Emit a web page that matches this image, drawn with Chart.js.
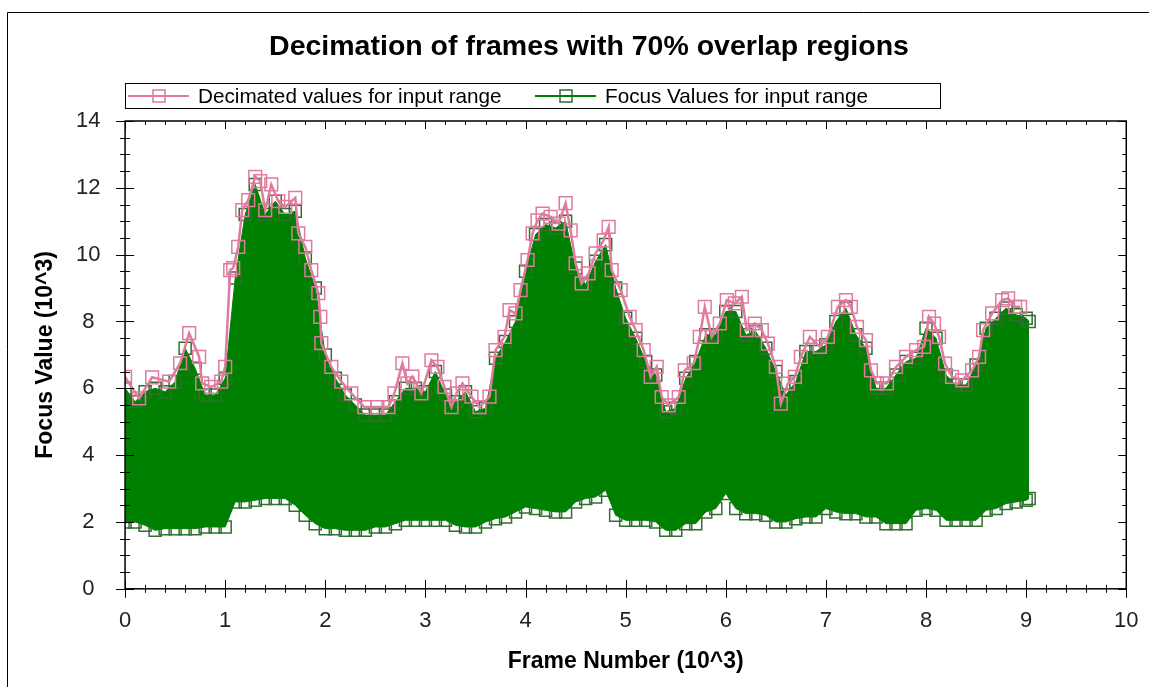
<!DOCTYPE html>
<html>
<head>
<meta charset="utf-8">
<script src="https://cdn.jsdelivr.net/npm/chart.js@4.4.0/dist/chart.umd.min.js"></script>
<style>
  html, body { margin: 0; padding: 0; background: #fff; }
  #wrap { position: relative; width: 1149px; height: 687px; }
</style>
</head>
<body>
<div id="wrap"><canvas id="chartFocus"></canvas></div>
<script>
// decimated (pink) series: frame number (10^3) / focus value (10^3)
const decimatedX = [
  0.00, 0.14, 0.27, 0.44, 0.55, 0.64, 0.74, 0.77, 0.86, 0.96,
  1.00, 1.05, 1.08, 1.13, 1.17, 1.23, 1.30, 1.35, 1.40, 1.46,
  1.53, 1.60, 1.70, 1.73, 1.80, 1.86, 1.93, 1.95, 1.96, 2.06,
  2.16, 2.26, 2.39, 2.52, 2.63, 2.69, 2.77, 2.82, 2.87, 2.96,
  3.06, 3.12, 3.19, 3.26, 3.31, 3.37, 3.46, 3.54, 3.64, 3.70,
  3.79, 3.84, 3.90, 3.95, 4.02, 4.07, 4.12, 4.17, 4.25, 4.33,
  4.40, 4.45, 4.50, 4.56, 4.63, 4.70, 4.78, 4.83, 4.86, 4.95,
  5.04, 5.10, 5.18, 5.25, 5.31, 5.36, 5.43, 5.53, 5.59, 5.68,
  5.74, 5.79, 5.86, 5.94, 6.01, 6.09, 6.16, 6.21, 6.29, 6.36,
  6.42, 6.50, 6.55, 6.62, 6.69, 6.75, 6.84, 6.94, 7.02, 7.12,
  7.20, 7.25, 7.31, 7.40, 7.45, 7.51, 7.61, 7.70, 7.80, 7.90,
  7.98, 8.03, 8.08, 8.13, 8.19, 8.26, 8.36, 8.46, 8.53, 8.57,
  8.66, 8.76, 8.82, 8.89, 8.94
];
const decimatedY = [
  6.34, 5.70, 6.33, 6.20, 6.75, 7.65, 6.94, 6.15, 6.04, 6.20,
  6.64, 9.54, 9.60, 10.23, 11.33, 11.63, 12.33, 12.20, 11.33, 12.10,
  11.60, 11.43, 11.70, 10.64, 10.23, 9.54, 8.85, 8.14, 7.35, 6.64,
  6.20, 5.85, 5.44, 5.44, 5.44, 5.85, 6.75, 6.15, 6.35, 5.85,
  6.84, 6.64, 6.04, 5.44, 5.85, 6.15, 5.75, 5.44, 5.75, 7.14,
  7.54, 8.34, 8.24, 8.94, 9.84, 10.64, 11.03, 11.23, 11.13, 10.93,
  11.54, 10.73, 9.74, 9.14, 9.44, 10.04, 10.43, 10.83, 9.54, 8.94,
  8.14, 7.74, 7.14, 6.34, 6.64, 5.74, 5.49, 5.74, 6.54, 6.75,
  7.54, 8.44, 7.54, 7.94, 8.64, 8.54, 8.74, 7.74, 7.94, 7.74,
  7.34, 6.64, 5.54, 6.14, 6.34, 6.94, 7.54, 7.24, 7.54, 8.44,
  8.64, 8.44, 7.84, 7.44, 6.54, 6.15, 6.15, 6.64, 6.94, 7.14,
  7.24, 8.14, 7.94, 7.54, 6.74, 6.34, 6.24, 6.54, 6.94, 7.74,
  8.24, 8.64, 8.69, 8.44, 8.44
];

// focus values (green): upper and lower edge of the oscillating band
const focusX = [
  0.0, 0.1, 0.2, 0.3, 0.4, 0.5, 0.6, 0.7, 0.8, 0.9,
  1.0, 1.1, 1.2, 1.3, 1.4, 1.5, 1.6, 1.7, 1.8, 1.9,
  2.0, 2.1, 2.2, 2.3, 2.4, 2.5, 2.6, 2.7, 2.8, 2.9,
  3.0, 3.1, 3.2, 3.3, 3.4, 3.5, 3.6, 3.7, 3.8, 3.9,
  4.0, 4.1, 4.2, 4.3, 4.4, 4.5, 4.6, 4.7, 4.8, 4.9,
  5.0, 5.1, 5.2, 5.3, 5.4, 5.5, 5.6, 5.7, 5.8, 5.9,
  6.0, 6.1, 6.2, 6.3, 6.4, 6.5, 6.6, 6.7, 6.8, 6.9,
  7.0, 7.1, 7.2, 7.3, 7.4, 7.5, 7.6, 7.7, 7.8, 7.9,
  8.0, 8.1, 8.2, 8.3, 8.4, 8.5, 8.6, 8.7, 8.8, 8.9,
  9.0, 9.03
];
const focusHigh = [
  6.0, 5.6, 5.9, 6.0, 5.9, 6.2, 7.2, 6.6, 5.8, 5.8,
  6.3, 9.3, 11.2, 12.1, 11.2, 11.6, 11.2, 11.3, 9.9, 9.0,
  7.0, 6.3, 5.8, 5.5, 5.2, 5.2, 5.2, 5.6, 6.0, 6.0,
  5.9, 6.5, 5.8, 5.6, 5.9, 5.3, 5.4, 6.9, 7.4, 8.0,
  9.5, 10.6, 10.9, 10.8, 11.0, 9.6, 9.1, 9.8, 10.3, 9.0,
  8.1, 7.5, 6.8, 6.4, 5.3, 5.4, 6.3, 6.8, 7.6, 7.6,
  8.3, 8.3, 7.6, 7.7, 7.2, 6.5, 5.8, 6.2, 7.1, 7.1,
  7.3, 8.0, 8.4, 7.6, 7.2, 6.0, 6.0, 6.4, 6.8, 6.9,
  7.8, 7.5, 6.4, 6.1, 6.1, 6.7, 7.8, 8.1, 8.4, 8.2,
  8.1, 8.0
];
const focusLow = [
  2.0, 2.0, 1.9, 1.75, 1.8, 1.8, 1.8, 1.8, 1.85, 1.85,
  1.85, 2.6, 2.6, 2.65, 2.7, 2.7, 2.7, 2.5, 2.2, 1.95,
  1.8, 1.8, 1.75, 1.75, 1.75, 1.85, 1.85, 1.95, 2.05, 2.05,
  2.05, 2.05, 2.05, 1.9, 1.85, 1.85, 2.0, 2.1, 2.15, 2.3,
  2.45, 2.4, 2.35, 2.3, 2.3, 2.6, 2.7, 2.75, 2.95, 2.2,
  2.05, 2.05, 2.05, 2.0, 1.75, 1.75, 1.95, 1.95, 2.3, 2.4,
  2.85, 2.4, 2.25, 2.25, 2.2, 2.0, 2.0, 2.1, 2.15, 2.15,
  2.4, 2.3, 2.25, 2.25, 2.15, 2.15, 1.95, 1.95, 1.95, 2.35,
  2.4, 2.35, 2.05, 2.05, 2.05, 2.05, 2.35, 2.4, 2.55, 2.6,
  2.65, 2.7
];

const xTickValues = [0, 1, 2, 3, 4, 5, 6, 7, 8, 9, 10];
const yTickValues = [0, 2, 4, 6, 8, 10, 12, 14];
const chartTitle = 'Decimation of frames with 70% overlap regions';

const pinkColor = '#e07a9f';
const greenColor = '#008000';
const greenEdge = '#2f6f2f';
const xMinorStep = 0.2;
const yMinorStep = 0.5;

const toPoints = (xs, ys) => xs.map((v, i) => ({ x: v, y: ys[i] }));

// frame round the plot with inner ticks, like the old charting control
const axisFrame = {
  id: 'axisFrame',
  afterDatasetsDraw(chart) {
    const { ctx, chartArea: a, scales: { x, y } } = chart;
    ctx.save();
    ctx.strokeStyle = '#000';
    ctx.lineWidth = 1.5;
    ctx.strokeRect(a.left, a.top, a.right - a.left, a.bottom - a.top);
    ctx.beginPath();
    for (let i = 0; i * xMinorStep <= x.max + 1e-6; i++) {
      const v = i * xMinorStep;
      const px = Math.round(x.getPixelForValue(v)) + 0.5;
      const major = i % 5 === 0;
      const len = major ? 9 : 4;
      ctx.moveTo(px, a.bottom - len); ctx.lineTo(px, a.bottom + len);
      ctx.moveTo(px, a.top); ctx.lineTo(px, a.top + (major ? 8 : 4));
    }
    for (let i = 0; i * yMinorStep <= y.max + 1e-6; i++) {
      const v = i * yMinorStep;
      const py = Math.round(y.getPixelForValue(v)) + 0.5;
      const major = i % 4 === 0;
      const len = major ? 9 : 5;
      ctx.moveTo(a.left - len, py); ctx.lineTo(a.left + len, py);
      ctx.moveTo(a.right, py); ctx.lineTo(a.right - (major ? 8 : 4), py);
    }
    ctx.lineWidth = 1;
    ctx.stroke();
    ctx.restore();
  }
};

// title, boxed legend with line + square symbols, and the outer border of the image
const boxLegend = {
  id: 'boxLegend',
  afterDraw(chart) {
    const { ctx } = chart;
    ctx.save();
    ctx.strokeStyle = '#000';
    ctx.lineWidth = 1;
    ctx.beginPath();
    ctx.moveTo(7.5, 687); ctx.lineTo(7.5, 12.5); ctx.lineTo(1149, 12.5);
    ctx.stroke();

    ctx.fillStyle = '#000';
    ctx.font = 'bold 28.5px "Liberation Sans", Arial, sans-serif';
    ctx.textAlign = 'center';
    ctx.textBaseline = 'middle';
    ctx.fillText(chartTitle, 589, 47);

    ctx.textAlign = 'left';
    ctx.strokeRect(125.5, 83.5, 815, 25);
    const items = [
      { ds: chart.data.datasets[0], x0: 128 },
      { ds: chart.data.datasets[1], x0: 535 }
    ];
    const cy = 96;
    items.forEach(it => {
      ctx.strokeStyle = it.ds.borderColor;
      ctx.lineWidth = 2;
      ctx.beginPath();
      ctx.moveTo(it.x0, cy); ctx.lineTo(it.x0 + 61, cy);
      ctx.stroke();
      ctx.strokeStyle = it.ds.pointBorderColor;
      ctx.lineWidth = 1.5;
      ctx.strokeRect(it.x0 + 25, cy - 6, 12, 12);
      ctx.fillStyle = '#000';
      ctx.font = '20.7px "Liberation Sans", Arial, sans-serif';
      ctx.fillText(it.ds.label, it.x0 + 70, cy + 1);
    });
    ctx.restore();
  }
};

Chart.defaults.font.family = '"Liberation Sans", Arial, sans-serif';
Chart.defaults.color = '#000';

new Chart(document.getElementById('chartFocus'), {
  type: 'line',
  data: {
    datasets: [
      {
        label: 'Decimated values for input range',
        data: toPoints(decimatedX, decimatedY),
        borderColor: pinkColor,
        borderWidth: 2.5,
        pointStyle: 'rect',
        pointRadius: 9,
        pointBorderColor: pinkColor,
        pointBorderWidth: 1.5,
        pointBackgroundColor: 'transparent',
        fill: false
      },
      {
        label: 'Focus Values for input range',
        data: toPoints(focusX, focusHigh),
        borderColor: greenColor,
        borderWidth: 1,
        backgroundColor: greenColor,
        pointStyle: 'rect',
        pointRadius: 8.5,
        pointBorderColor: greenEdge,
        pointBorderWidth: 1.5,
        pointBackgroundColor: 'transparent',
        fill: '+1'
      },
      {
        label: 'Focus low',
        data: toPoints(focusX, focusLow),
        borderColor: greenColor,
        borderWidth: 1,
        pointStyle: 'rect',
        pointRadius: 8.5,
        pointBorderColor: greenEdge,
        pointBorderWidth: 1.5,
        pointBackgroundColor: 'transparent',
        fill: false
      }
    ]
  },
  options: {
    responsive: true,
    maintainAspectRatio: false,
    animation: false,
    layout: { padding: { top: 121, left: 10, right: 12.5, bottom: 10 } },
    plugins: {
      legend: { display: false },
      tooltip: { enabled: false },
      title: { display: false }
    },
    scales: {
      x: {
        type: 'linear',
        min: 0,
        max: 10,
        afterBuildTicks: s => { s.ticks = xTickValues.map(v => ({ value: v })); },
        grid: { display: false },
        border: { display: false },
        ticks: { font: { size: 22 }, color: '#222', padding: 10.5, maxRotation: 0 },
        title: {
          display: true,
          text: 'Frame Number (10^3)',
          font: { size: 23, weight: 'bold' },
          color: '#000',
          padding: { top: 4, bottom: 1.2 }
        }
      },
      y: {
        min: 0,
        max: 14,
        afterBuildTicks: s => { s.ticks = yTickValues.map(v => ({ value: v })); },
        grid: { display: false },
        border: { display: false },
        ticks: { font: { size: 22 }, color: '#222', padding: 16.5, crossAlign: 'center' },
        title: {
          display: true,
          text: 'Focus Value (10^3)',
          font: { size: 23, weight: 'bold' },
          color: '#000',
          padding: { top: 22, bottom: 0 }
        }
      }
    }
  },
  plugins: [axisFrame, boxLegend]
});
</script>
</body>
</html>
